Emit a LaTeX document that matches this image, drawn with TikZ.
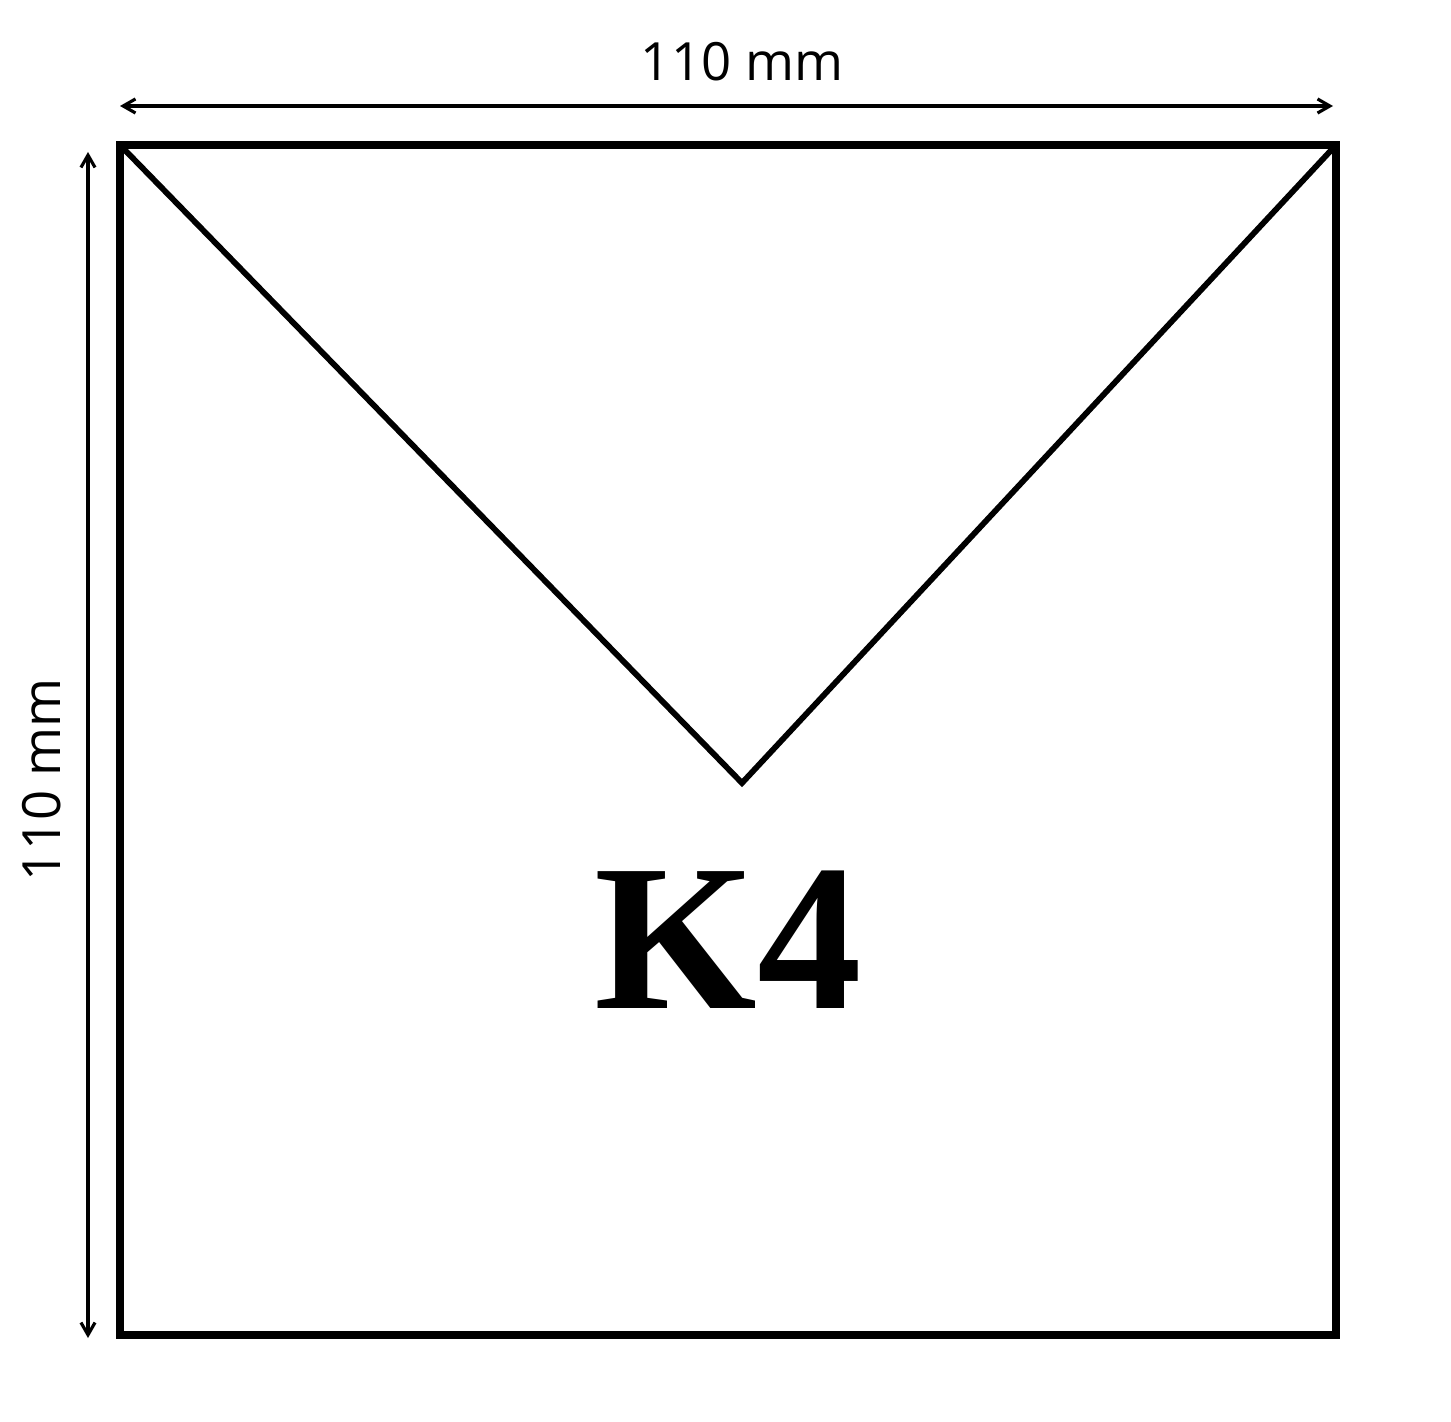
\documentclass[tikz,border=0pt]{standalone}
\usepackage{fontspec}
\setmainfont{Open Sans}
\newfontfamily\kfont{Liberation Serif}
\usepackage{tikz}
\usepackage{xcolor}
\usetikzlibrary{arrows.meta, positioning}

\begin{document}
\begin{tikzpicture}[>={Straight Barb[length=7pt,width=8pt,line width=1.8pt]},x=0.02cm,y=-0.02cm]
       \tikzstyle{edgeline}=[draw=black,line width=4pt,line join=miter]
       \tikzstyle{flapline}=[draw=black,line width=3.3pt,line join=miter]
       \tikzstyle{dimline}=[<->,draw=black,line width=1.8pt]
       \tikzstyle{dimlabel}=[font=\fontsize{30}{36}\selectfont,inner sep=0pt]

       \useasboundingbox (0,0) rectangle (1451,1422);

       \coordinate (TL) at (120,145);
       \coordinate (TR) at (1336,145);
       \coordinate (BR) at (1336,1335);
       \coordinate (BL) at (120,1335);
       \coordinate (V)  at (742,783);

       \coordinate (WA) at (120,106);
       \coordinate (WB) at (1333,106);
       \coordinate (HA) at (88,152);
       \coordinate (HB) at (88,1338);

       \draw[edgeline] (TL) -- (TR) -- (BR) -- (BL) -- cycle;
       \draw[flapline] (TL) -- (V) -- (TR);

       \draw[dimline] (WA) -- (WB);
       \draw[dimline] (HA) -- (HB);

       \node[dimlabel] (W) at (742,62) {110 mm};
       \node[dimlabel,rotate=90] (H) at (42,780) {110 mm};

       \node[font=\kfont\bfseries\fontsize{119}{128}\selectfont,inner sep=0pt] (K) at (728,940) {K4};
\end{tikzpicture}
\end{document}
